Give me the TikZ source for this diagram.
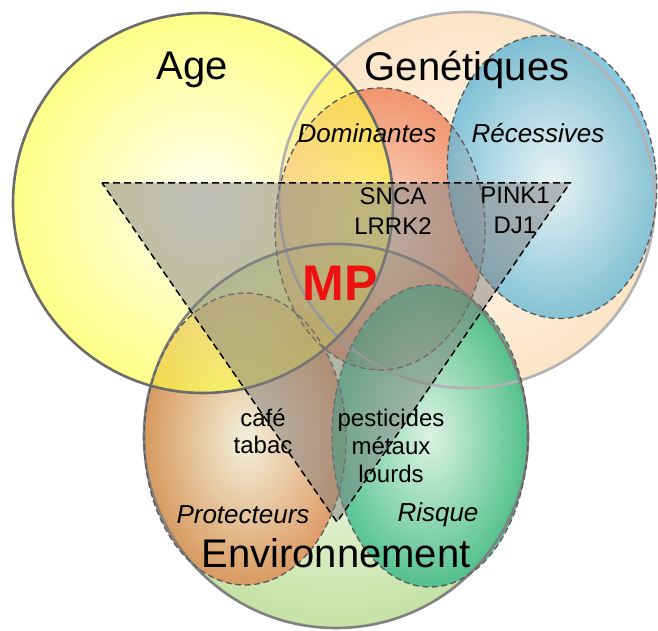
\documentclass[tikz,border=0pt]{standalone}
\usepackage{fontspec}
\setmainfont{Liberation Sans}
\definecolor{ageOut}{HTML}{FFFF40}
\definecolor{ageIn}{HTML}{FFFFF0}
\definecolor{genOut}{HTML}{FBE0BC}
\definecolor{genIn}{HTML}{FFF6EA}
\definecolor{envOut}{HTML}{B2D888}
\definecolor{envIn}{HTML}{EAF5DC}
\definecolor{domOut}{HTML}{EC7A4E}
\definecolor{domIn}{HTML}{FAD2C0}
\definecolor{recOut}{HTML}{62B6D6}
\definecolor{recIn}{HTML}{E4F4FA}
\definecolor{proOut}{HTML}{DF8248}
\definecolor{proIn}{HTML}{FAF2E2}
\definecolor{risOut}{HTML}{2DB585}
\definecolor{risIn}{HTML}{DDF5EC}
\definecolor{mpred}{HTML}{EE1111}
\begin{document}
\begin{tikzpicture}[x=1pt,y=-1pt,
  every node/.style={inner sep=0pt, align=center},
  big/.style={font=\fontsize{40}{48}\selectfont},
  sub/.style={font=\fontsize{26}{31}\selectfont\itshape},
  item/.style={font=\fontsize{24}{30}\selectfont},
  ring/.style={line width=2.6pt},
  ellline/.style={draw=black!65, line width=1.3pt, dash pattern=on 6pt off 3.5pt},
  tri/.style={draw=black, line width=1.5pt, dash pattern=on 7pt off 4pt},
  ]
\useasboundingbox (0,0) rectangle (658,631);
% big circles (fills)
\path[shading=radial, inner color=genIn, outer color=genOut, fill opacity=0.85] (467,200) circle [radius=188];
\path[shading=radial, inner color=envIn, outer color=envOut, fill opacity=0.75] (336,436) circle [radius=192];
% sub ellipses
\path[shading=radial, inner color=domIn, outer color=domOut, fill opacity=0.75] (380,229) ellipse [x radius=105, y radius=141];
\path[shading=radial, inner color=recIn, outer color=recOut, fill opacity=0.8] (552,177) ellipse [x radius=104, y radius=142, rotate=7];
\path[shading=radial, inner color=proIn, outer color=proOut, fill opacity=0.75] (245,439) ellipse [x radius=101, y radius=146];
\path[shading=radial, inner color=risIn, outer color=risOut, fill opacity=0.75] (430,436) ellipse [x radius=98, y radius=151];
\path[shading=radial, inner color=ageIn, outer color=ageOut, fill opacity=0.62] (203,203) circle [radius=190];
% borders of circles
\draw[ring, draw=black!30] (467,200) circle [radius=188];
\draw[ring, draw=black!50] (336,436) circle [radius=192];
\draw[ring, draw=black!58] (203,203) circle [radius=190];
% borders of ellipses
\draw[ellline] (380,229) ellipse [x radius=105, y radius=141];
\draw[ellline] (552,177) ellipse [x radius=104, y radius=142, rotate=7];
\draw[ellline] (245,439) ellipse [x radius=101, y radius=146];
\draw[ellline] (430,436) ellipse [x radius=98, y radius=151];
% triangle
\coordinate (tl) at (102,183);
\coordinate (tr) at (570,183);
\coordinate (tb) at (337,522);
\fill[black!50, fill opacity=0.5] (tl) -- (tr) -- (tb) -- cycle;
\draw[tri] (tl) -- (tr) -- (tb) -- cycle;
% texts
\node[big] (age) at (192,70) {Age};
\node[big] (gen) at (467,70) {Genétiques};
\node[big] (env) at (336,553) {Environnement};
\node[sub] (dom) at (367,133) {Dominantes};
\node[sub] (rec) at (538,133) {Récessives};
\node[sub] (pro) at (243,515) {Protecteurs};
\node[sub] (ris) at (438,515) {Risque};
\node[item] (snca) at (393,211) {SNCA\\LRRK2};
\node[item] (pink) at (515,210) {PINK1\\DJ1};
\node[font=\fontsize{24}{27}\selectfont] (cafe) at (263,431) {café\\tabac};
\node[font=\fontsize{24}{28}\selectfont] (pest) at (391,446) {pesticides\\métaux\\lourds};
\node[font=\fontsize{50}{60}\selectfont\bfseries, text=mpred] (mp) at (340,283) {MP};
\end{tikzpicture}
\end{document}
